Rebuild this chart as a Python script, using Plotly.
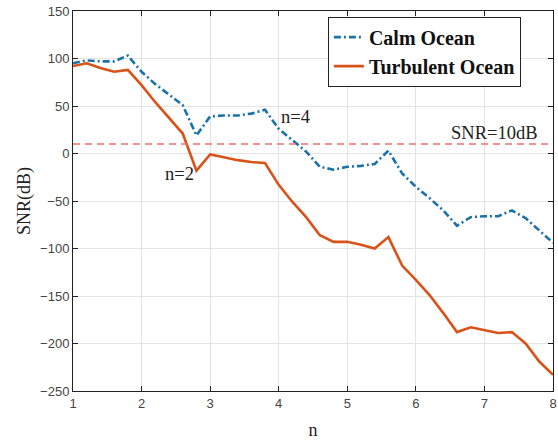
import plotly.graph_objects as go

n = [1.0, 1.2, 1.4, 1.6, 1.8, 2.0, 2.2, 2.4, 2.6, 2.8, 3.0, 3.2, 3.4, 3.6, 3.8, 4.0, 4.2, 4.4,
     4.6, 4.8, 5.0, 5.2, 5.4, 5.6, 5.8, 6.0, 6.2, 6.4, 6.6, 6.8, 7.0, 7.2, 7.4, 7.6, 7.8, 8.0]
calm = [95, 98, 97, 97, 103, 86, 73, 62, 51, 19, 39, 40, 40, 42, 46, 26, 14, 2,
        -14, -17, -14, -13, -11, 3, -21, -35, -47, -60, -76, -67, -66, -66, -60, -68, -81, -94]
turb = [92, 95, 90, 86, 88, 72, 54, 38, 21, -18, -1, -4, -7, -9, -10, -33, -51, -67,
        -86, -93, -93, -96, -100, -88, -118, -133, -149, -168, -188, -183, -186, -189, -188, -200, -219, -233]
snr_ref = 10
x_ticks = [1, 2, 3, 4, 5, 6, 7, 8]
y_ticks = [-250, -200, -150, -100, -50, 0, 50, 100, 150]

fig = go.Figure()
fig.add_trace(go.Scatter(x=n, y=calm, mode="lines", name="<b>Calm Ocean</b>",
                         line=dict(color="#1B72A8", width=2.6, dash="7px,3px,2px,3px")))
fig.add_trace(go.Scatter(x=n, y=turb, mode="lines", name="<b>Turbulent Ocean</b>",
                         line=dict(color="#D95319", width=2.6)))
fig.add_trace(go.Scatter(x=[1, 8], y=[snr_ref, snr_ref], mode="lines", showlegend=False,
                         line=dict(color="#EE7070", width=1.6, dash="7px,5px")))

serif = "Liberation Serif, Times New Roman, serif"
fig.add_annotation(x=2.55, y=-22, text="n=2", showarrow=False, xanchor="center", yanchor="middle",
                   font=dict(family=serif, size=18.5, color="#222"))
fig.add_annotation(x=4.24, y=38, text="n=4", showarrow=False, xanchor="center", yanchor="middle",
                   font=dict(family=serif, size=18.5, color="#222"))
fig.add_annotation(x=7.15, y=22, text="SNR=10dB", showarrow=False, xanchor="center", yanchor="middle",
                   font=dict(family=serif, size=18.5, color="#222"))

axis_common = dict(showline=True, linecolor="#222", linewidth=1, mirror="ticks",
                   ticks="inside", ticklen=5, tickcolor="#222", automargin=False,
                   showgrid=True, gridcolor="#E3E3E3", gridwidth=1, zeroline=False,
                   tickfont=dict(family="Liberation Sans, Arial, sans-serif", size=13, color="#444"))

fig.update_xaxes(range=[1, 8], tickvals=x_ticks, **axis_common,
                 title=dict(text="n", font=dict(family=serif, size=18, color="#222"), standoff=13))
fig.update_yaxes(range=[-250, 150], tickvals=y_ticks, **axis_common,
                 title=dict(text="SNR(dB)", font=dict(family=serif, size=18, color="#222"), standoff=4))

fig.update_layout(
    width=558, height=441,
    margin=dict(l=73, r=5, t=11, b=50),
    paper_bgcolor="white", plot_bgcolor="white",
    legend=dict(x=0.531, y=0.893, xanchor="left", yanchor="middle",
                bgcolor="white", bordercolor="#222", borderwidth=1,
                font=dict(family="Times New Roman, Liberation Serif, serif", size=20, color="#111"),
                tracegroupgap=0),
    showlegend=True,
)

fig.write_html("out.html", config={"displayModeBar": False},
               post_script="document.body.style.margin='0';")
